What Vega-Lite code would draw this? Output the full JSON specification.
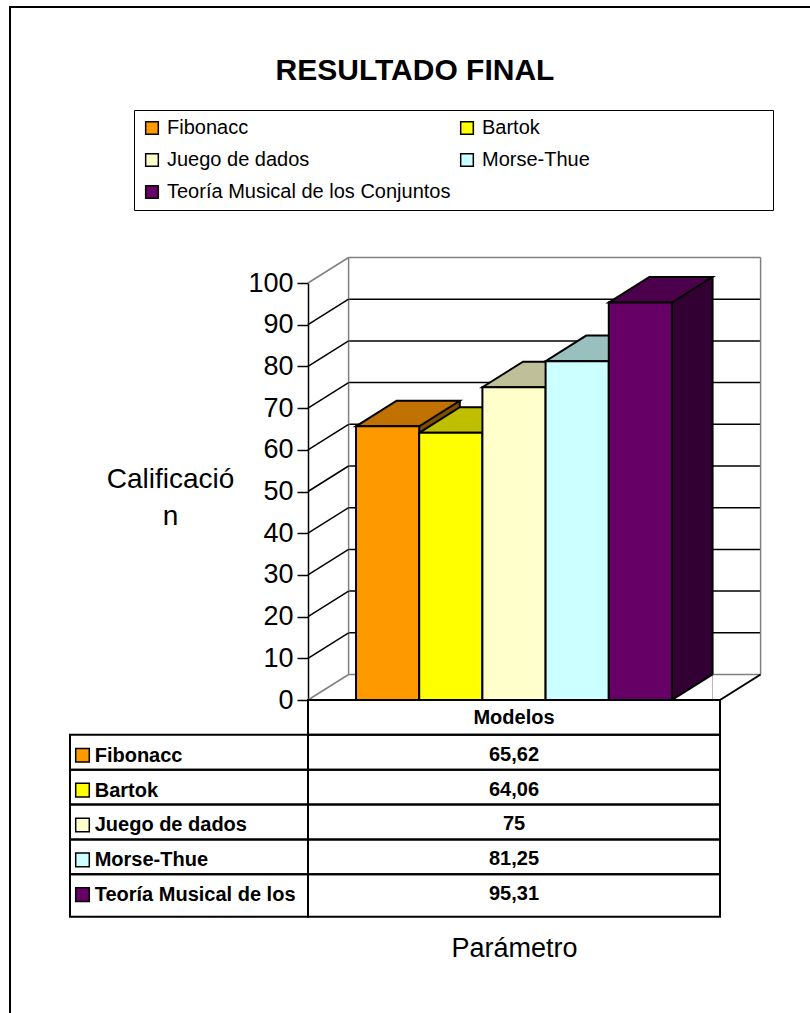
{
  "$schema": "https://vega.github.io/schema/vega-lite/v6.json",
  "width": 412,
  "height": 417,
  "autosize": {"type": "none"},
  "padding": {"left": 308, "top": 283, "right": 90, "bottom": 313},
  "background": "white",
  "config": {
    "font": "Liberation Sans",
    "view": {"stroke": null},
    "locale": {"number": {"decimal": ",", "thousands": ".", "grouping": [3], "currency": ["", " €"]}}
  },
  "title": {
    "text": "RESULTADO FINAL",
    "fontSize": 30,
    "fontWeight": "bold",
    "color": "black",
    "anchor": "middle",
    "frame": "group",
    "baseline": "alphabetic",
    "offset": -104,
    "dx": -99
  },
  "datasets": {
    "modelos": [
      {"modelo": "Fibonacc", "valor": 65.62},
      {"modelo": "Bartok", "valor": 64.06},
      {"modelo": "Juego de dados", "valor": 75},
      {"modelo": "Morse-Thue", "valor": 81.25},
      {"modelo": "Teoría Musical de los Conjuntos", "valor": 95.31}
    ],
    "marcas": [
      {"t": 0}, {"t": 10}, {"t": 20}, {"t": 30}, {"t": 40}, {"t": 50},
      {"t": 60}, {"t": 70}, {"t": 80}, {"t": 90}, {"t": 100}
    ],
    "encabezado": [{"columna": "Modelos"}]
  },
  "data": {"name": "modelos"},
  "layer": [
    {
      "layer": [
        {
          "data": {"name": "marcas"},
          "transform": [{"filter": "datum.t > 0 && datum.t < 100"}],
          "mark": {"type": "rule", "color": "black", "strokeWidth": 1.5, "xOffset": 40.6, "x2Offset": 40.6, "yOffset": -25.5},
          "encoding": {
            "x": {"value": 0},
            "x2": {"value": "width"},
            "y": {"field": "t", "type": "quantitative", "scale": {"domain": [0, 100], "nice": false}}
          }
        },
        {
          "data": {"name": "marcas"},
          "transform": [{"filter": "datum.t == 0 || datum.t == 100"}],
          "mark": {"type": "rule", "color": "#808080", "strokeWidth": 1.5, "xOffset": 40.6, "x2Offset": 40.6, "yOffset": -25.5},
          "encoding": {
            "x": {"value": 0},
            "x2": {"value": "width"},
            "y": {"field": "t", "type": "quantitative", "scale": {"domain": [0, 100], "nice": false}}
          }
        },
        {
          "data": {"name": "marcas"},
          "transform": [{"filter": "datum.t == 0"}],
          "mark": {"type": "rule", "color": "#808080", "strokeWidth": 1.5, "xOffset": 40.6, "yOffset": -25.5, "y2Offset": -25.5},
          "encoding": {
            "x": {"value": 0},
            "y": {"datum": 100, "type": "quantitative", "scale": {"domain": [0, 100], "nice": false}},
            "y2": {"datum": 0}
          }
        },
        {
          "data": {"name": "marcas"},
          "transform": [{"filter": "datum.t == 0"}],
          "mark": {"type": "rule", "color": "#808080", "strokeWidth": 1.5, "xOffset": 40.6, "yOffset": -25.5, "y2Offset": -25.5},
          "encoding": {
            "x": {"value": "width"},
            "y": {"datum": 100, "type": "quantitative", "scale": {"domain": [0, 100], "nice": false}},
            "y2": {"datum": 0}
          }
        },
        {
          "data": {"name": "marcas"},
          "transform": [{"filter": "datum.t > 0 && datum.t < 100"}],
          "mark": {"type": "rule", "color": "black", "strokeWidth": 1.5, "x2Offset": 40.6, "y2Offset": -25.5},
          "encoding": {
            "x": {"value": 0},
            "x2": {"value": 0},
            "y": {"field": "t", "type": "quantitative", "scale": {"domain": [0, 100], "nice": false}},
            "y2": {"field": "t"}
          }
        },
        {
          "data": {"name": "marcas"},
          "transform": [{"filter": "datum.t == 0 || datum.t == 100"}],
          "mark": {"type": "rule", "color": "#808080", "strokeWidth": 1.5, "x2Offset": 40.6, "y2Offset": -25.5},
          "encoding": {
            "x": {"value": 0},
            "x2": {"value": 0},
            "y": {"field": "t", "type": "quantitative", "scale": {"domain": [0, 100], "nice": false}},
            "y2": {"field": "t"}
          }
        },
        {
          "data": {"name": "marcas"},
          "transform": [{"filter": "datum.t == 0"}],
          "mark": {"type": "rule", "color": "black", "strokeWidth": 2, "x2Offset": 40.6, "y2Offset": -25.5},
          "encoding": {
            "x": {"value": "width"},
            "x2": {"value": "width"},
            "y": {"field": "t", "type": "quantitative", "scale": {"domain": [0, 100], "nice": false}},
            "y2": {"field": "t"}
          }
        },
        {
          "mark": {"type": "bar", "width": 40.6, "xOffset": 51.9, "yOffset": -25.6, "opacity": 1},
          "encoding": {
            "x": {"field": "modelo", "type": "nominal", "sort": null, "scale": {"domain": ["Fibonacc", "Bartok", "Juego de dados", "Morse-Thue", "Teoría Musical de los Conjuntos"], "paddingInner": 0, "paddingOuter": 0.76}},
            "y": {"field": "valor", "type": "quantitative", "scale": {"domain": [0, 100], "nice": false}},
            "y2": {"datum": 0},
            "color": {"field": "modelo", "type": "nominal", "scale": {"domain": ["Fibonacc", "Bartok", "Juego de dados", "Morse-Thue", "Teoría Musical de los Conjuntos"], "range": ["#FF9900", "#FFFF00", "#FFFFCC", "#CCFFFF", "#660066"]}}
          }
        },
        {
          "mark": {"type": "bar", "width": 40.6, "xOffset": 51.9, "yOffset": -25.6, "color": "black", "opacity": 0.5},
          "encoding": {
            "x": {"field": "modelo", "type": "nominal", "sort": null, "scale": {"domain": ["Fibonacc", "Bartok", "Juego de dados", "Morse-Thue", "Teoría Musical de los Conjuntos"], "paddingInner": 0, "paddingOuter": 0.76}},
            "y": {"field": "valor", "type": "quantitative", "scale": {"domain": [0, 100], "nice": false}},
            "y2": {"datum": 0}
          }
        },
        {
          "mark": {"type": "point", "shape": "M31.6,0L72.2,-25.6L72.2,0Z", "size": 4, "filled": true, "color": "white", "strokeWidth": 0, "opacity": 1},
          "encoding": {
            "x": {"field": "modelo", "type": "nominal", "sort": null, "scale": {"domain": ["Fibonacc", "Bartok", "Juego de dados", "Morse-Thue", "Teoría Musical de los Conjuntos"], "paddingInner": 0, "paddingOuter": 0.76}},
            "y": {"datum": 0, "type": "quantitative", "scale": {"domain": [0, 100], "nice": false}}
          }
        },
        {
          "mark": {"type": "rule", "color": "black", "strokeWidth": 2, "xOffset": 72.2, "yOffset": -25.6, "y2Offset": -25.6},
          "encoding": {
            "x": {"field": "modelo", "type": "nominal", "sort": null, "scale": {"domain": ["Fibonacc", "Bartok", "Juego de dados", "Morse-Thue", "Teoría Musical de los Conjuntos"], "paddingInner": 0, "paddingOuter": 0.76}},
            "y": {"field": "valor", "type": "quantitative", "scale": {"domain": [0, 100], "nice": false}},
            "y2": {"datum": 0}
          }
        },
        {
          "mark": {"type": "point", "shape": "M31.6,0L72.2,-25.6", "size": 4, "filled": false, "stroke": "black", "strokeWidth": 2, "opacity": 1},
          "encoding": {
            "x": {"field": "modelo", "type": "nominal", "sort": null, "scale": {"domain": ["Fibonacc", "Bartok", "Juego de dados", "Morse-Thue", "Teoría Musical de los Conjuntos"], "paddingInner": 0, "paddingOuter": 0.76}},
            "y": {"datum": 0, "type": "quantitative", "scale": {"domain": [0, 100], "nice": false}}
          }
        },
        {
          "mark": {"type": "point", "shape": "M-31.6,0L31.6,0L72.2,-25.6L9,-25.6Z", "size": 4, "filled": true, "strokeWidth": 0, "opacity": 1},
          "encoding": {
            "x": {"field": "modelo", "type": "nominal", "sort": null, "scale": {"domain": ["Fibonacc", "Bartok", "Juego de dados", "Morse-Thue", "Teoría Musical de los Conjuntos"], "paddingInner": 0, "paddingOuter": 0.76}},
            "y": {"field": "valor", "type": "quantitative", "scale": {"domain": [0, 100], "nice": false}},
            "color": {"field": "modelo", "type": "nominal", "scale": {"domain": ["Fibonacc", "Bartok", "Juego de dados", "Morse-Thue", "Teoría Musical de los Conjuntos"], "range": ["#FF9900", "#FFFF00", "#FFFFCC", "#CCFFFF", "#660066"]}}
          }
        },
        {
          "mark": {"type": "point", "shape": "M-31.6,0L31.6,0L72.2,-25.6L9,-25.6Z", "size": 4, "filled": true, "color": "black", "fillOpacity": 0.25, "stroke": "black", "strokeWidth": 2, "strokeOpacity": 1, "opacity": 1},
          "encoding": {
            "x": {"field": "modelo", "type": "nominal", "sort": null, "scale": {"domain": ["Fibonacc", "Bartok", "Juego de dados", "Morse-Thue", "Teoría Musical de los Conjuntos"], "paddingInner": 0, "paddingOuter": 0.76}},
            "y": {"field": "valor", "type": "quantitative", "scale": {"domain": [0, 100], "nice": false}}
          }
        },
        {
          "mark": {"type": "bar", "stroke": "black", "strokeWidth": 2, "opacity": 1},
          "encoding": {
            "x": {
              "field": "modelo", "type": "nominal", "sort": null,
              "scale": {"domain": ["Fibonacc", "Bartok", "Juego de dados", "Morse-Thue", "Teoría Musical de los Conjuntos"], "paddingInner": 0, "paddingOuter": 0.76},
              "axis": {"title": "Parámetro", "labels": false, "ticks": false, "domain": false, "grid": false, "titleFontSize": 27, "titleFontWeight": "normal", "titleColor": "black", "titleBaseline": "alphabetic", "titleY": 256}
            },
            "y": {
              "field": "valor", "type": "quantitative",
              "scale": {"domain": [0, 100], "nice": false},
              "axis": {
                "values": [0, 10, 20, 30, 40, 50, 60, 70, 80, 90, 100],
                "title": ["Calificació", "n"],
                "titleAngle": 0, "titleAlign": "center", "titleBaseline": "alphabetic",
                "titleX": -138, "titleY": 204, "titleFontSize": 28, "titleFontWeight": "normal", "titleColor": "black", "titleLineHeight": 37,
                "labelFontSize": 27, "labelColor": "black", "labelPadding": 4, "labelFlush": false, "labelOverlap": false,
                "tickSize": 11, "tickColor": "black", "tickWidth": 1.5,
                "domainColor": "black", "domainWidth": 1.5, "grid": false
              }
            },
            "y2": {"datum": 0},
            "color": {
              "field": "modelo", "type": "nominal",
              "scale": {"domain": ["Fibonacc", "Bartok", "Juego de dados", "Morse-Thue", "Teoría Musical de los Conjuntos"], "range": ["#FF9900", "#FFFF00", "#FFFFCC", "#CCFFFF", "#660066"]},
              "legend": {
                "title": " ", "titleOrient": "right", "titlePadding": 175, "titleFontSize": 20,
                "orient": "none", "legendX": -174, "legendY": -173,
                "direction": "horizontal",
                "columns": 2, "gridAlign": "all", "columnPadding": 6, "rowPadding": 12, "padding": 8,
                "strokeColor": "black", "fillColor": "white",
                "symbolType": "square", "symbolSize": 160, "symbolStrokeColor": "black", "symbolStrokeWidth": 1.5,
                "labelFontSize": 20, "labelColor": "black", "labelOffset": 5, "labelLimit": 400,
                "encode": {"legend": {"update": {"strokeWidth": {"value": 2}}}}
              }
            }
          }
        }
      ]
    },
    {
      "layer": [
        {
          "data": {"name": "encabezado"},
          "mark": {"type": "rect", "fill": "transparent", "stroke": "black", "strokeWidth": 2},
          "encoding": {
            "x": {"value": 0},
            "x2": {"value": "width"},
            "y": {"field": "columna", "type": "nominal", "scale": {"domain": ["Modelos", "Fibonacc", "Bartok", "Juego de dados", "Morse-Thue", "Teoría Musical de los Conjuntos"], "range": [417, 626.1], "paddingInner": 0, "paddingOuter": 0}, "axis": null}
          }
        },
        {
          "transform": [{"filter": "datum.modelo !== 'Teoría Musical de los Conjuntos'"}],
          "mark": {"type": "rect", "fill": "transparent", "stroke": "black", "strokeWidth": 2},
          "encoding": {
            "x": {"value": 0},
            "x2": {"value": "width"},
            "y": {"field": "modelo", "type": "nominal", "axis": null}
          }
        },
        {
          "transform": [{"filter": "datum.modelo !== 'Teoría Musical de los Conjuntos'"}],
          "mark": {"type": "rect", "fill": "transparent", "stroke": "black", "strokeWidth": 2},
          "encoding": {
            "x": {"value": -238},
            "x2": {"value": 0},
            "y": {"field": "modelo", "type": "nominal", "axis": null}
          }
        },
        {
          "transform": [{"filter": "datum.modelo === 'Teoría Musical de los Conjuntos'"}],
          "mark": {"type": "rect", "fill": "transparent", "stroke": "black", "strokeWidth": 2, "height": 42.4, "yOffset": 3.8},
          "encoding": {
            "x": {"value": 0},
            "x2": {"value": "width"},
            "y": {"field": "modelo", "type": "nominal", "axis": null}
          }
        },
        {
          "transform": [{"filter": "datum.modelo === 'Teoría Musical de los Conjuntos'"}],
          "mark": {"type": "rect", "fill": "transparent", "stroke": "black", "strokeWidth": 2, "height": 42.4, "yOffset": 3.8},
          "encoding": {
            "x": {"value": -238},
            "x2": {"value": 0},
            "y": {"field": "modelo", "type": "nominal", "axis": null}
          }
        },
        {
          "mark": {"type": "point", "shape": "square", "filled": true, "size": 185, "stroke": "black", "strokeWidth": 1.5, "opacity": 1, "yOffset": 3},
          "encoding": {
            "x": {"value": -225.5},
            "y": {"field": "modelo", "type": "nominal", "axis": null},
            "color": {"field": "modelo", "type": "nominal", "scale": {"domain": ["Fibonacc", "Bartok", "Juego de dados", "Morse-Thue", "Teoría Musical de los Conjuntos"], "range": ["#FF9900", "#FFFF00", "#FFFFCC", "#CCFFFF", "#660066"]}}
          }
        },
        {
          "mark": {"type": "text", "align": "left", "baseline": "alphabetic", "dy": 9.5, "fontSize": 20, "fontWeight": "bold", "color": "black", "limit": 212, "ellipsis": " "},
          "encoding": {
            "x": {"value": -213.3},
            "y": {"field": "modelo", "type": "nominal", "axis": null},
            "text": {"field": "modelo"}
          }
        },
        {
          "mark": {"type": "text", "align": "center", "baseline": "alphabetic", "dy": 8.5, "fontSize": 20, "fontWeight": "bold", "color": "black"},
          "encoding": {
            "y": {"field": "modelo", "type": "nominal", "axis": null},
            "text": {"field": "valor", "type": "quantitative", "format": ".2~f"}
          }
        },
        {
          "data": {"name": "encabezado"},
          "mark": {"type": "text", "align": "center", "baseline": "alphabetic", "dy": 7, "fontSize": 20, "fontWeight": "bold", "color": "black"},
          "encoding": {
            "y": {"field": "columna", "type": "nominal", "axis": null},
            "text": {"field": "columna"}
          }
        },
        {
          "data": {"name": "encabezado"},
          "mark": {"type": "rect", "fill": "transparent", "stroke": "black", "strokeWidth": 2},
          "encoding": {
            "x": {"value": -298},
            "x2": {"value": 520},
            "y": {"value": -276},
            "y2": {"value": 745}
          }
        }
      ]
    }
  ],
  "resolve": {"scale": {"y": "independent"}}
}
